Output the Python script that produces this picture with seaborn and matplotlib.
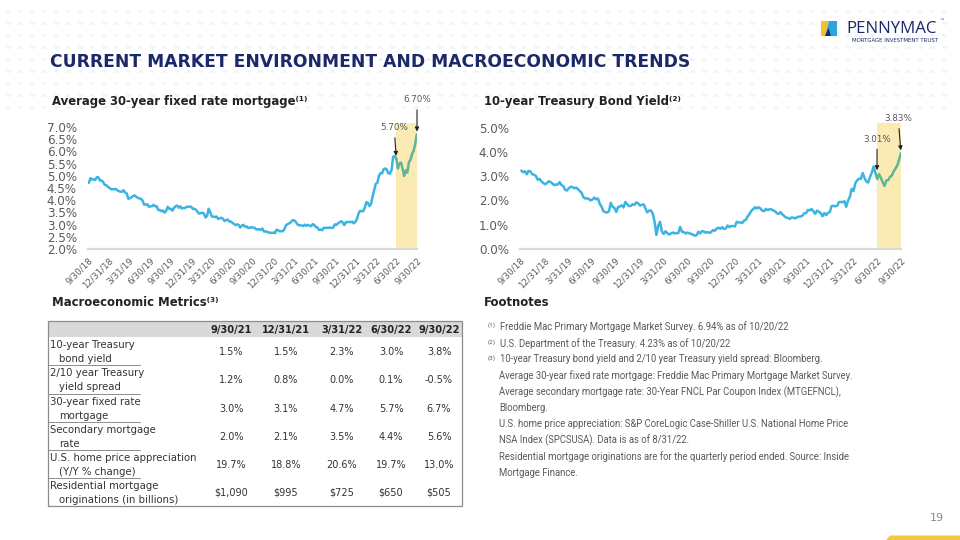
import numpy as np
import pandas as pd
import matplotlib
matplotlib.use("Agg")
import matplotlib.pyplot as plt
import seaborn as sns
from matplotlib.patches import Rectangle, Polygon

# ---------------------------------------------------------------- data
tick_labels = ["9/30/18", "12/31/18", "3/31/19", "6/30/19", "9/30/19", "12/31/19",
               "3/31/20", "6/30/20", "9/30/20", "12/31/20", "3/31/21", "6/30/21",
               "9/30/21", "12/31/21", "3/31/22", "6/30/22", "9/30/22"]

highlight_start = "6/30/22"

# Freddie Mac PMMS, weekly (Thursdays) starting 2018-10-04
mortgage_start = "2018-10-04"
mortgage_rate = [
    4.71, 4.90, 4.85, 4.86, 4.83, 4.94, 4.94, 4.81, 4.81, 4.75, 4.63, 4.62, 4.55,
    4.51, 4.45, 4.45, 4.45, 4.46, 4.41, 4.37, 4.35, 4.35, 4.41, 4.31, 4.28, 4.06,
    4.08, 4.12, 4.17, 4.20, 4.14, 4.10, 4.07, 4.06, 3.99, 3.82, 3.82, 3.84, 3.73,
    3.75, 3.75, 3.81, 3.75, 3.75, 3.60, 3.60, 3.55, 3.58, 3.49, 3.56, 3.73, 3.64,
    3.65, 3.57, 3.69, 3.75, 3.78, 3.69, 3.75, 3.66, 3.68, 3.68, 3.73, 3.73, 3.74,
    3.72, 3.64, 3.65, 3.60, 3.51, 3.45, 3.47, 3.49, 3.45, 3.29, 3.36, 3.65, 3.50,
    3.33, 3.33, 3.31, 3.33, 3.23, 3.26, 3.28, 3.24, 3.15, 3.18, 3.21, 3.13, 3.13,
    3.07, 3.03, 2.98, 3.01, 2.99, 2.88, 2.96, 2.99, 2.91, 2.93, 2.86, 2.87, 2.90,
    2.88, 2.87, 2.81, 2.80, 2.81, 2.78, 2.84, 2.72, 2.72, 2.71, 2.67, 2.67, 2.66, 2.67,
    2.65, 2.79, 2.77, 2.73, 2.73, 2.73, 2.81, 2.97, 3.02, 3.05, 3.09, 3.17,
    3.18, 3.13, 3.04, 2.97, 2.98, 2.96, 2.94, 3.00, 2.95, 2.99, 2.96, 2.93, 3.02,
    2.98, 2.90, 2.88, 2.78, 2.80, 2.77, 2.87, 2.86, 2.87, 2.87, 2.88, 2.86, 2.88, 3.01,
    2.99, 3.05, 3.09, 3.14, 3.09, 2.98, 3.10, 3.10, 3.11, 3.10, 3.12, 3.05, 3.11,
    3.22, 3.45, 3.56, 3.55, 3.55, 3.69, 3.92, 3.89, 3.76, 3.85, 4.16, 4.42, 4.67,
    4.72, 5.00, 5.11, 5.10, 5.27, 5.30, 5.25, 5.10, 5.09, 5.23, 5.78, 5.81, 5.70,
    5.30, 5.51, 5.54, 5.30, 4.99, 5.22, 5.13, 5.55, 5.66, 5.89, 6.02, 6.29, 6.70,
]

# 10-year Treasury yield, weekly (Fridays) starting 2018-10-05
treasury_start = "2018-10-05"
treasury_yield = [
    3.23, 3.16, 3.20, 3.08, 3.22, 3.19, 3.08, 3.06, 3.01, 2.85, 2.89, 2.79, 2.72,
    2.67, 2.71, 2.79, 2.76, 2.70, 2.63, 2.66, 2.65, 2.76, 2.64, 2.59, 2.44, 2.41,
    2.50, 2.56, 2.56, 2.50, 2.53, 2.47, 2.39, 2.32, 2.14, 2.08, 2.09, 2.06, 2.00,
    2.04, 2.12, 2.05, 2.08, 1.86, 1.74, 1.55, 1.52, 1.50, 1.55, 1.90, 1.74, 1.69,
    1.53, 1.73, 1.75, 1.80, 1.71, 1.94, 1.84, 1.77, 1.78, 1.84, 1.82, 1.92, 1.88,
    1.79, 1.82, 1.84, 1.68, 1.51, 1.58, 1.59, 1.46, 1.13, 0.58, 0.96, 1.12, 0.72,
    0.62, 0.73, 0.65, 0.60, 0.64, 0.68, 0.64, 0.66, 0.65, 0.91, 0.71, 0.70, 0.64,
    0.68, 0.64, 0.63, 0.59, 0.55, 0.57, 0.71, 0.64, 0.74, 0.72, 0.67, 0.70, 0.66,
    0.70, 0.78, 0.75, 0.84, 0.88, 0.83, 0.90, 0.83, 0.84, 0.97, 0.90, 0.95, 0.94,
    0.93, 1.12, 1.09, 1.10, 1.07, 1.17, 1.20, 1.34, 1.44, 1.57, 1.64, 1.72, 1.67,
    1.72, 1.67, 1.58, 1.56, 1.65, 1.60, 1.64, 1.63, 1.59, 1.56, 1.47, 1.45, 1.52,
    1.43, 1.36, 1.30, 1.28, 1.24, 1.30, 1.29, 1.26, 1.31, 1.33, 1.34, 1.37, 1.47,
    1.48, 1.61, 1.59, 1.65, 1.55, 1.45, 1.58, 1.54, 1.48, 1.35, 1.48, 1.40, 1.49, 1.52,
    1.77, 1.78, 1.76, 1.78, 1.93, 1.94, 1.93, 1.97, 1.74, 2.00, 2.15, 2.48,
    2.39, 2.72, 2.83, 2.90, 2.89, 3.13, 2.93, 2.78, 2.74, 2.96, 3.15, 3.40, 3.13,
    2.88, 3.08, 2.93, 2.75, 2.60, 2.83, 2.84, 2.97, 3.03, 3.20, 3.32, 3.45, 3.69, 3.95,
]

mortgage_yticks = [2.0, 2.5, 3.0, 3.5, 4.0, 4.5, 5.0, 5.5, 6.0, 6.5, 7.0]
treasury_yticks = [0.0, 1.0, 2.0, 3.0, 4.0, 5.0]
mortgage_callouts = ["5.70%", "6.70%"]
treasury_callouts = ["3.01%", "3.83%"]

table_columns = ["9/30/21", "12/31/21", "3/31/22", "6/30/22", "9/30/22"]
table_row_labels = [("10-year Treasury", "bond yield"),
                    ("2/10 year Treasury", "yield spread"),
                    ("30-year fixed rate", "mortgage"),
                    ("Secondary mortgage", "rate"),
                    ("U.S. home price appreciation", "(Y/Y % change)"),
                    ("Residential mortgage", "originations (in billions)")]
table_values = [["1.5%", "1.5%", "2.3%", "3.0%", "3.8%"],
                ["1.2%", "0.8%", "0.0%", "0.1%", "-0.5%"],
                ["3.0%", "3.1%", "4.7%", "5.7%", "6.7%"],
                ["2.0%", "2.1%", "3.5%", "4.4%", "5.6%"],
                ["19.7%", "18.8%", "20.6%", "19.7%", "13.0%"],
                ["$1,090", "$995", "$725", "$650", "$505"]]

footnotes = [
    ("(1)", "Freddie Mac Primary Mortgage Market Survey. 6.94% as of 10/20/22"),
    ("(2)", "U.S. Department of the Treasury. 4.23% as of 10/20/22"),
    ("(3)", "10-year Treasury bond yield and 2/10 year Treasury yield spread: Bloomberg."),
    ("", "Average 30-year fixed rate mortgage: Freddie Mac Primary Mortgage Market Survey."),
    ("", "Average secondary mortgage rate: 30-Year FNCL Par Coupon Index (MTGEFNCL),"),
    ("", "Bloomberg."),
    ("", "U.S. home price appreciation: S&P CoreLogic Case-Shiller U.S. National Home Price"),
    ("", "NSA Index (SPCSUSA). Data is as of 8/31/22."),
    ("", "Residential mortgage originations are for the quarterly period ended. Source: Inside"),
    ("", "Mortgage Finance."),
]

page_title = "CURRENT MARKET ENVIRONMENT AND MACROECONOMIC TRENDS"
left_title = "Average 30-year fixed rate mortgage⁽¹⁾"
right_title = "10-year Treasury Bond Yield⁽²⁾"
table_title = "Macroeconomic Metrics⁽³⁾"
notes_title = "Footnotes"
page_number = "19"

# ---------------------------------------------------------------- style
sns.set_theme(style="white")
plt.rcParams["font.family"] = ["DejaVu Sans"]

NAVY = "#1B286A"
BLUE = "#3BB4E2"
GREEN = "#5FB597"
YELLOW = "#FAEAB4"
GRAY_TXT = "#5A5A5A"
TXT = "#333333"

W, H = 960, 540
fig = plt.figure(figsize=(9.6, 5.4), dpi=100)
fig.patch.set_facecolor("white")

# overlay axes in pixel coordinates for slide decoration / text
bg = fig.add_axes([0, 0, 1, 1], zorder=0)
bg.set_xlim(0, W)
bg.set_ylim(H, 0)
bg.axis("off")

# faint dotted header pattern
gx, gy = np.meshgrid(np.arange(8, 956, 12), np.arange(11, 108, 12))
bg.plot(gx.ravel(), gy.ravel(), ls="none", marker="_", ms=3.5, mew=2.0,
        color="#F0F3F8", zorder=0)

# logo
bg.add_patch(Polygon([(821, 21), (829, 21), (825, 36), (821, 36)],
                     closed=True, facecolor="#F2C12E", edgecolor="none"))
bg.add_patch(Polygon([(829, 21), (837, 21), (837, 36), (825, 36)],
                     closed=True, facecolor="#2FA4DB", edgecolor="none"))
bg.add_patch(Polygon([(825, 36), (828.5, 28), (831, 36)],
                     closed=True, facecolor=NAVY, edgecolor="none"))
bg.text(846, 29, "PENNYMAC", fontsize=12.2, color=NAVY, va="center", ha="left",
        family=["Open Sans", "DejaVu Sans"])
bg.text(939, 20, "™", fontsize=3.5, color=NAVY, va="center", ha="left")
bg.text(938, 40.5, "MORTGAGE INVESTMENT TRUST", fontsize=3.9, color=NAVY,
        va="center", ha="right")

# page title
bg.text(50, 62, page_title, fontsize=12.3, weight="bold", color=NAVY,
        va="center", ha="left")

# section titles
bg.text(52, 102, left_title, fontsize=8.4, weight="bold", color="#222222", va="center")
bg.text(484, 102, right_title, fontsize=8.4, weight="bold", color="#222222", va="center")
bg.text(52, 302, table_title, fontsize=8.4, weight="bold", color="#222222", va="center")
bg.text(484, 302, notes_title, fontsize=8.4, weight="bold", color="#222222", va="center")

# page number and bottom accent
bg.text(944, 518, page_number, fontsize=8, color="#8A8A8A", ha="right", va="center")
bg.add_patch(Polygon([(886, 540), (890, 535.5), (960, 535.5), (960, 540)],
                     closed=True, facecolor="#F5C842", edgecolor="none"))

# ---------------------------------------------------------------- charts
tick_dates = pd.to_datetime(tick_labels, format="%m/%d/%y")
split = pd.to_datetime(highlight_start, format="%m/%d/%y")


def pix_axes(x0, x1, y_top, y_bot):
    return fig.add_axes([x0 / W, 1 - y_bot / H, (x1 - x0) / W, (y_bot - y_top) / H],
                        zorder=2)


def draw_chart(ax, start, values, ylim, yticks, callouts, offsets):
    dates = pd.date_range(start, periods=len(values), freq="7D")
    df = pd.DataFrame({"date": dates, "value": values})
    pre = df[df["date"] <= split]
    post = df[df["date"] >= pre["date"].iloc[-1]]
    long = pd.concat([pre.assign(seg="pre"), post.assign(seg="post")],
                     ignore_index=True)
    sns.lineplot(data=long, x="date", y="value", hue="seg",
                 palette={"pre": BLUE, "post": GREEN}, estimator=None,
                 linewidth=1.8, legend=False, ax=ax, zorder=3)
    ax.axvspan(split, tick_dates[-1], color=YELLOW, lw=0, zorder=1)
    ax.set_xlim(tick_dates[0], tick_dates[-1])
    ax.set_ylim(*ylim)
    ax.set_facecolor("none")
    ax.set_xticks(tick_dates)
    ax.set_xticklabels(tick_labels, rotation=45, ha="right",
                       rotation_mode="anchor", fontsize=6.3, color=GRAY_TXT)
    ax.set_yticks(yticks)
    ax.set_yticklabels([f"{v:.1f}%" for v in yticks], fontsize=8.6, color=GRAY_TXT)
    ax.tick_params(axis="x", length=0, pad=5)
    ax.tick_params(axis="y", length=0, pad=8)
    ax.set_xlabel("")
    ax.set_ylabel("")
    for s in ["top", "right", "left"]:
        ax.spines[s].set_visible(False)
    ax.spines["bottom"].set_color("#D9D9D9")
    ax.spines["bottom"].set_linewidth(1.6)
    ax.grid(False)
    # call-outs: start of highlight and latest value
    pts = [(split, pre["value"].iloc[-1]), (tick_dates[-1], df["value"].iloc[-1])]
    for (xx, yv), label, (dx, dy) in zip(pts, callouts, offsets):
        ax.annotate(label, xy=(xx, yv), xytext=(dx, dy), textcoords="offset points",
                    ha="center", va="bottom", fontsize=6.3, color=GRAY_TXT,
                    annotation_clip=False, zorder=5,
                    arrowprops=dict(arrowstyle="-|>", color="#222222", lw=0.8,
                                    mutation_scale=6, shrinkA=1.5, shrinkB=2))


ax1 = pix_axes(88, 417, 123, 249)
draw_chart(ax1, mortgage_start, mortgage_rate, (2.0, 2.0 + 126 / 24.4),
           mortgage_yticks, mortgage_callouts, [(-1.5, 19), (0, 21.5)])

ax2 = pix_axes(520, 901, 123, 249)
draw_chart(ax2, treasury_start, treasury_yield, (0.0, 126 / 24.27),
           treasury_yticks, treasury_callouts, [(0, 21), (-2, 21.5)])

# ---------------------------------------------------------------- table
tx0, tx1 = 48, 462
ty0, thead = 321, 337.3
row_h = (506 - thead) / len(table_row_labels)
col_x = [231, 286, 341.5, 391, 439]

bg.add_patch(Rectangle((tx0, ty0), tx1 - tx0, thead - ty0, facecolor="#D9D9D9",
                       edgecolor="none", zorder=1))
bg.add_patch(Rectangle((tx0, ty0), tx1 - tx0, 506 - ty0, fill=False,
                       edgecolor="#8C8C8C", lw=0.9, zorder=2))
for cx, c in zip(col_x, table_columns):
    bg.text(cx, (ty0 + thead) / 2 + 0.5, c, fontsize=7.1, weight="bold",
            color="#222222", ha="center", va="center", zorder=3)

for i, ((l1, l2), vals) in enumerate(zip(table_row_labels, table_values)):
    top = thead + i * row_h
    if i > 0:
        bg.plot([tx0, 140], [top, top], color="#8C8C8C", lw=0.7, zorder=2)
    bg.text(50, top + 8, l1, fontsize=7.3, color=TXT, ha="left", va="center", zorder=3)
    bg.text(59, top + 22, l2, fontsize=7.3, color=TXT, ha="left", va="center", zorder=3)
    for cx, v in zip(col_x, vals):
        bg.text(cx, top + row_h / 2 + 1, v, fontsize=7.0, color=TXT,
                ha="center", va="center", zorder=3)

# ---------------------------------------------------------------- footnotes
for i, (sup, line) in enumerate(footnotes):
    y = 327 + i * 16.2
    if sup:
        bg.text(488, y - 1.5, sup, fontsize=4.6, color=GRAY_TXT, ha="left", va="center",
                family=["Roboto", "DejaVu Sans"])
        bg.text(500.5, y, line, fontsize=6.85, color=GRAY_TXT, ha="left", va="center",
                family=["Roboto", "DejaVu Sans"])
    else:
        bg.text(499, y, line, fontsize=6.85, color=GRAY_TXT, ha="left", va="center",
                family=["Roboto", "DejaVu Sans"])

fig.savefig("out.png", dpi=100)
